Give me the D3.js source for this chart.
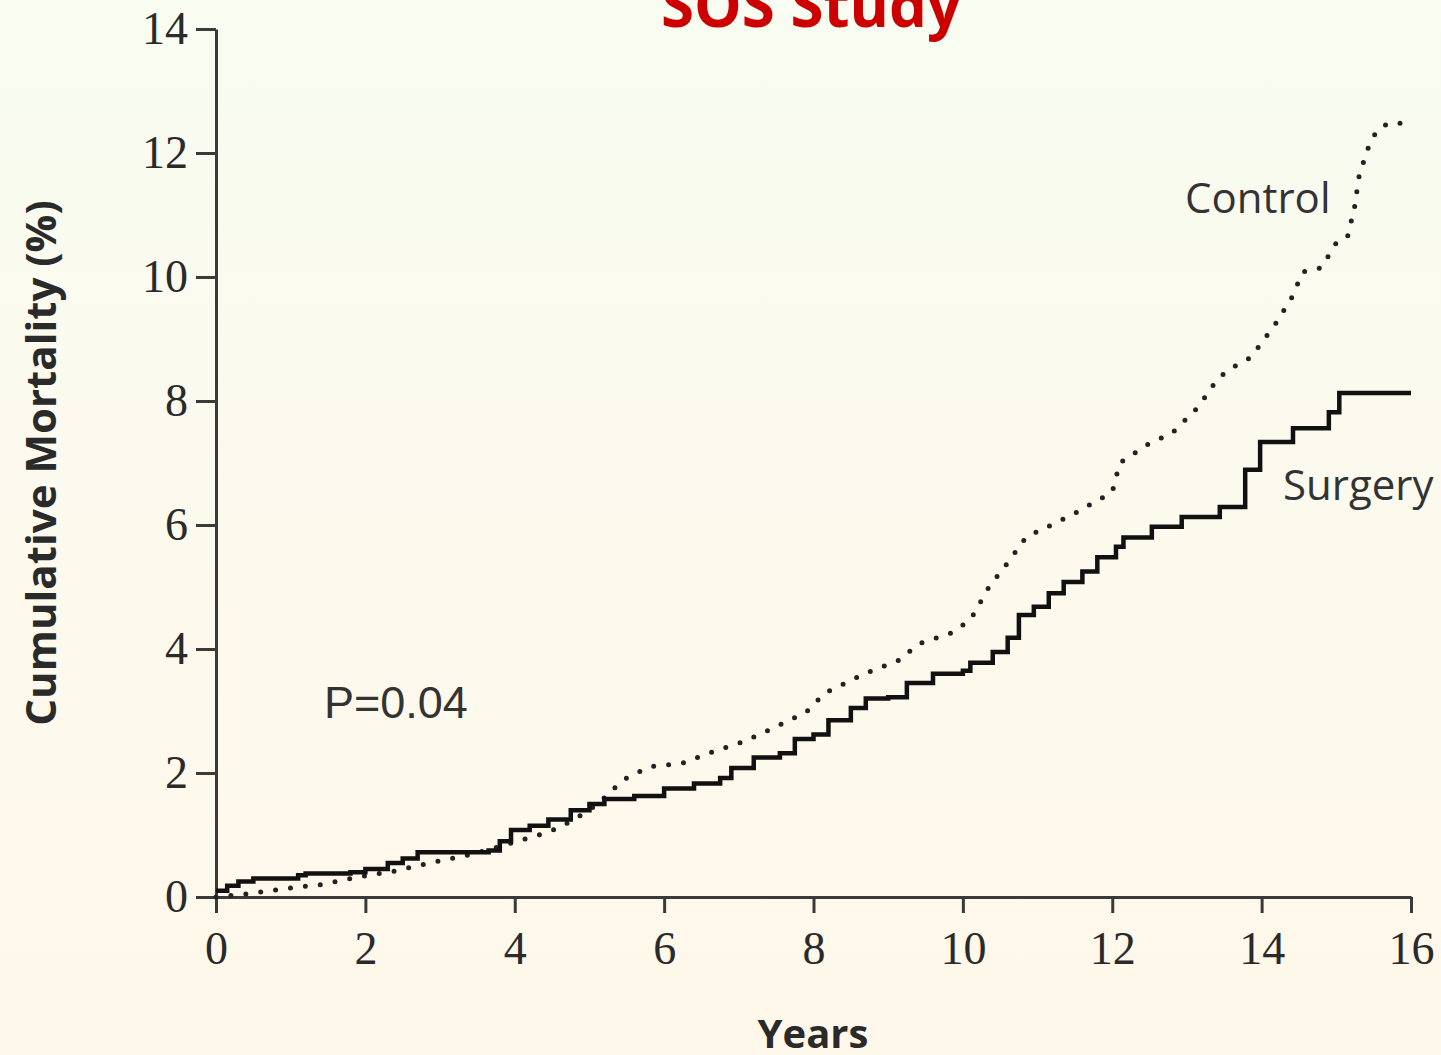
<!DOCTYPE html>
<html>
<head>
<meta charset="utf-8">
<script src="https://cdn.jsdelivr.net/npm/d3@7"></script>
<style>
  html, body { margin: 0; padding: 0; }
  body { width: 1441px; height: 1055px; overflow: hidden; }
</style>
</head>
<body>
<svg id="chart" width="1441" height="1055"></svg>
<script>
// Cumulative mortality (%) by years of follow-up, SOS study
const surgeryYears = [0, 0.15, 0.3, 0.5, 1.1, 1.2, 1.8, 2.0, 2.3, 2.5, 2.7, 3.65, 3.8, 3.95, 4.2, 4.45, 4.75, 5.0, 5.2, 5.6, 6.0, 6.4, 6.75, 6.9, 7.2, 7.55, 7.75, 8.0, 8.2, 8.5, 8.7, 9.0, 9.25, 9.6, 10.0, 10.1, 10.4, 10.6, 10.75, 10.95, 11.15, 11.35, 11.6, 11.8, 12.05, 12.15, 12.53, 12.93, 13.44, 13.78, 13.98, 14.42, 14.9, 15.04, 16.0];
const surgeryValues = [0.10, 0.18, 0.25, 0.30, 0.35, 0.38, 0.40, 0.45, 0.55, 0.62, 0.72, 0.75, 0.90, 1.08, 1.15, 1.25, 1.40, 1.50, 1.58, 1.63, 1.75, 1.83, 1.92, 2.08, 2.25, 2.32, 2.55, 2.62, 2.85, 3.05, 3.20, 3.22, 3.45, 3.60, 3.65, 3.78, 3.95, 4.18, 4.55, 4.68, 4.90, 5.08, 5.25, 5.48, 5.65, 5.80, 5.97, 6.13, 6.29, 6.89, 7.34, 7.56, 7.82, 8.13, 8.13];

const controlYears = [0, 0.4, 0.9, 1.4, 1.9, 2.4, 2.9, 3.4, 3.9, 4.4, 4.6, 5.0, 5.2, 5.45, 5.8, 6.25, 6.65, 7.05, 7.4, 7.9, 8.15, 8.7, 9.15, 9.4, 9.85, 10.1, 10.35, 10.6, 10.85, 11.1, 11.5, 12.0, 12.1, 12.5, 12.8, 13.15, 13.4, 13.55, 13.85, 14.0, 14.2, 14.4, 14.55, 14.8, 14.9, 15.0, 15.15, 15.2, 15.25, 15.3, 15.38, 15.45, 15.55, 15.7, 16.0];
const controlValues = [0, 0.05, 0.13, 0.20, 0.32, 0.42, 0.56, 0.68, 0.85, 1.03, 1.12, 1.40, 1.60, 1.89, 2.10, 2.16, 2.34, 2.50, 2.69, 2.98, 3.29, 3.61, 3.82, 4.08, 4.26, 4.47, 5.00, 5.39, 5.81, 5.95, 6.19, 6.53, 7.00, 7.32, 7.48, 7.90, 8.34, 8.50, 8.70, 8.94, 9.27, 9.66, 10.08, 10.15, 10.35, 10.55, 10.65, 10.90, 11.16, 11.60, 11.92, 12.16, 12.37, 12.48, 12.48];

const xTicks = [0, 2, 4, 6, 8, 10, 12, 14, 16];
const yTicks = [0, 2, 4, 6, 8, 10, 12, 14];

const titleText = "SOS Study";
const xTitle = "Years";
const yTitle = "Cumulative Mortality (%)";
const pValueText = "P=0.04";
const seriesLabels = ["Control", "Surgery"];

const svg = d3.select("#chart");
const W = 1441, H = 1055;

// page background: soft vertical wash
const defs = svg.append("defs");
const grad = defs.append("linearGradient").attr("id", "bg").attr("x1", 0).attr("y1", 0).attr("x2", 0).attr("y2", 1);
grad.append("stop").attr("offset", "0%").attr("stop-color", "#f8fcf1");
grad.append("stop").attr("offset", "40%").attr("stop-color", "#fcfaee");
grad.append("stop").attr("offset", "100%").attr("stop-color", "#fef8ea");
svg.append("rect").attr("width", W).attr("height", H).attr("fill", "url(#bg)");

const x = d3.scaleLinear().domain([0, 16]).range([216, 1411]);
const y = d3.scaleLinear().domain([0, 14]).range([897, 29]);

const axisColor = "#3a3a3a";
const tickFont = "'Liberation Serif', 'DejaVu Serif', serif";

// x axis
const gx = svg.append("g").attr("transform", `translate(0,${y(0)})`)
  .call(d3.axisBottom(x).tickValues(xTicks).tickSize(16).tickPadding(18).tickSizeOuter(0));
gx.select(".domain").attr("stroke", axisColor).attr("stroke-width", 3);
gx.selectAll(".tick line").attr("stroke", axisColor).attr("stroke-width", 3);
gx.selectAll(".tick text").attr("fill", "#2a2a2a").attr("font-family", tickFont).attr("font-size", 46);

// y axis
const gy = svg.append("g").attr("transform", `translate(${x(0)},0)`)
  .call(d3.axisLeft(y).tickValues(yTicks).tickSize(20).tickPadding(8).tickSizeOuter(0));
gy.select(".domain").attr("stroke", axisColor).attr("stroke-width", 3);
gy.selectAll(".tick line").attr("stroke", axisColor).attr("stroke-width", 3);
gy.selectAll(".tick text").attr("fill", "#2a2a2a").attr("font-family", tickFont).attr("font-size", 46);

// curves
const surgery = surgeryYears.map((t, i) => [t, surgeryValues[i]]);
const control = controlYears.map((t, i) => [t, controlValues[i]]);

const stepLine = d3.line().x(d => x(d[0])).y(d => y(d[1])).curve(d3.curveStepAfter);
const smoothLine = d3.line().x(d => x(d[0])).y(d => y(d[1])).curve(d3.curveLinear);

svg.append("path").datum(control)
  .attr("d", smoothLine)
  .attr("fill", "none")
  .attr("stroke", "#222")
  .attr("stroke-width", 5)
  .attr("stroke-linecap", "round")
  .attr("stroke-dasharray", "0,15");

svg.append("path").datum(surgery)
  .attr("d", stepLine)
  .attr("fill", "none")
  .attr("stroke", "#111")
  .attr("stroke-width", 4.5)
  .attr("stroke-linejoin", "miter");

// annotations
const labelFont = "'Open Sans', 'Noto Sans', sans-serif";
svg.append("text").attr("x", 1185).attr("y", 213)
  .attr("font-family", labelFont).attr("font-size", 42).attr("fill", "#333")
  .text(seriesLabels[0]);
svg.append("text").attr("x", 1283).attr("y", 500)
  .attr("font-family", labelFont).attr("font-size", 42).attr("fill", "#333")
  .text(seriesLabels[1]);

svg.append("text").attr("x", 324).attr("y", 718)
  .attr("font-family", "'Liberation Sans', Arial, sans-serif").attr("font-size", 45).attr("fill", "#333")
  .text(pValueText);

// axis titles
svg.append("text").attr("x", 813).attr("y", 1048)
  .attr("text-anchor", "middle")
  .attr("font-family", labelFont).attr("font-weight", 700).attr("font-size", 40).attr("fill", "#2a2a2a")
  .text(xTitle);

svg.append("text")
  .attr("transform", "translate(56,463) rotate(-90)")
  .attr("text-anchor", "middle")
  .attr("font-family", labelFont).attr("font-weight", 700).attr("font-size", 42).attr("fill", "#2a2a2a")
  .text(yTitle);

// title
svg.append("text").attr("x", 811).attr("y", 27)
  .attr("text-anchor", "middle")
  .attr("font-family", labelFont).attr("font-weight", 700).attr("font-size", 60).attr("fill", "#cc0000")
  .text(titleText);
</script>
</body>
</html>
